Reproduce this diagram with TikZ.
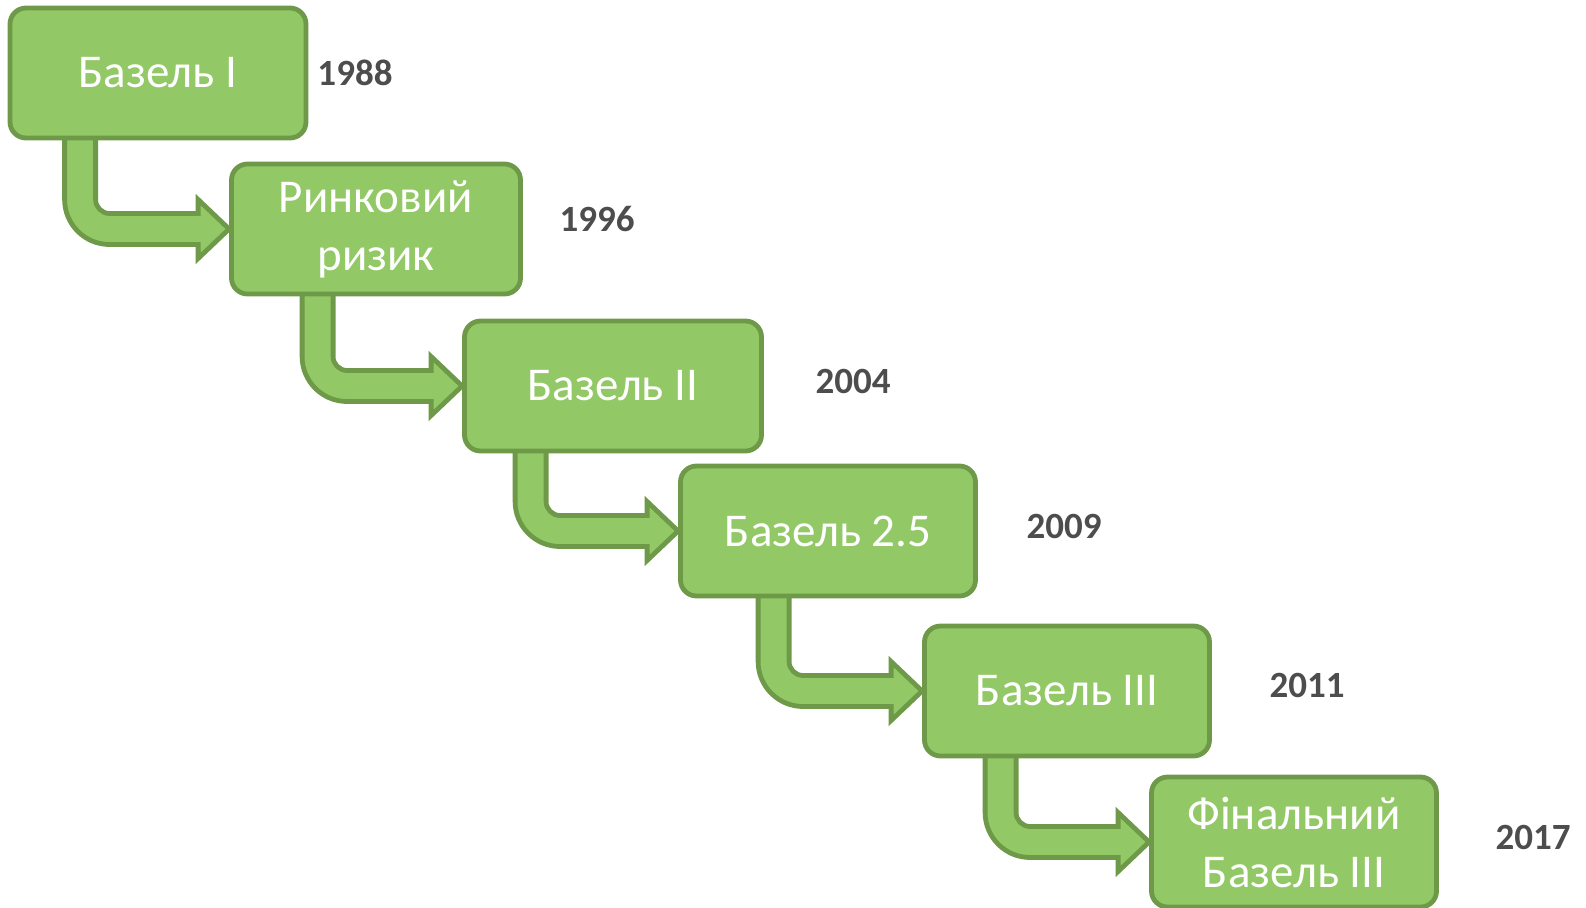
\documentclass[tikz,border=0pt]{standalone}
\usepackage{fontspec}
\setmainfont{Carlito}
\usetikzlibrary{calc,backgrounds}

\definecolor{boxfill}{RGB}{146,201,102}
\definecolor{boxline}{RGB}{110,153,72}
\definecolor{yeargray}{RGB}{77,77,77}

\tikzset{
    stage/.style={draw=boxline, fill=boxfill, line width=2.4pt, rounded corners=8pt,
        text=white, align=center, font=\fontsize{23.5}{29}\selectfont,
        minimum width=145pt, minimum height=65pt, inner sep=0pt},
    year/.style={text=yeargray, font=\fontsize{18.5}{20}\selectfont\bfseries, inner sep=0pt},
    bent/.style={draw=boxline, fill=boxfill, line width=2.4pt, line join=miter}
}

\begin{document}
\begin{tikzpicture}[x=0.5pt, y=-0.5pt]
        \useasboundingbox (0,0) rectangle (1586,907);

        % Stages
        \node[stage, minimum width=148pt] (b1) at (158,73) {Базель I};
        \node[stage, minimum width=144.5pt] (b2) at (376,229) {Ринковий\\ризик};
        \node[stage, minimum width=148.5pt] (b3) at (613,386) {Базель II};
        \node[stage, minimum width=147.5pt] (b4) at (828,531) {Базель 2.5};
        \node[stage, minimum width=142.5pt] (b5) at (1067,691) {Базель III};
        \node[stage, minimum width=142.5pt] (b6) at (1294,842) {Фінальний\\Базель III};

        % Years
        \node[year] (y1) at (355,73) {1988};
        \node[year] (y2) at (597,219) {1996};
        \node[year] (y3) at (853,381) {2004};
        \node[year] (y4) at (1064,526) {2009};
        \node[year] (y5) at (1307,685) {2011};
        \node[year] (y6) at (1533,837) {2017};

        % Bent arrows between stages (under the boxes)
        \begin{scope}[on background layer]
        \foreach \a/\b/\o in {b1/b2/57, b2/b3/73, b3/b4/53, b4/b5/80, b5/b6/63} {
            \path[bent] let \p1=(\a.south west), \p2=(\b.west) in
                ({\x1+\o*0.5pt+15.5pt}, {\y1+4pt})
                -- ({\x1+\o*0.5pt+15.5pt}, {\y2+14.75pt})
                arc (180:270:7pt)
                -- ({\x2-15.5pt}, {\y2+7.75pt})
                -- ({\x2-15.5pt}, {\y2+14.75pt})
                -- (\x2, \y2)
                -- ({\x2-15.5pt}, {\y2-14.75pt})
                -- ({\x2-15.5pt}, {\y2-7.75pt})
                -- ({\x1+\o*0.5pt+22.5pt}, {\y2-7.75pt})
                arc (270:180:22.5pt)
                -- ({\x1+\o*0.5pt}, {\y1+4pt})
                -- cycle;
        }
        \end{scope}
    \end{tikzpicture}
\end{document}
